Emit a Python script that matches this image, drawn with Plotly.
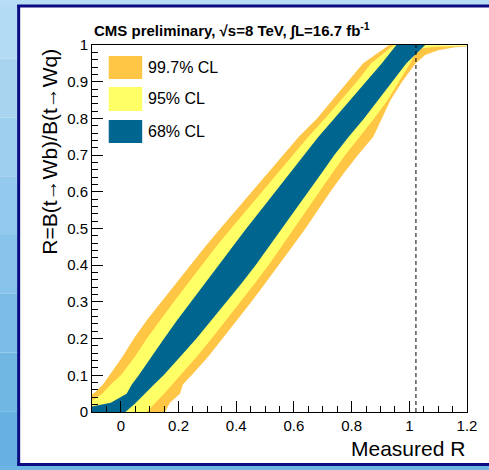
import plotly.graph_objects as go

# True R values at which the confidence-belt edges are given
true_r = [0.0, 0.025, 0.05, 0.075, 0.1, 0.15, 0.2, 0.25, 0.3, 0.35, 0.4, 0.45,
          0.5, 0.55, 0.6, 0.65, 0.7, 0.75, 0.8, 0.85, 0.9, 0.95, 1.0]

# Measured-R edges of the 68% CL belt
cl68_lo = [-0.200, -0.035, 0.020, 0.038, 0.062, 0.105, 0.150, 0.195, 0.243, 0.290, 0.337, 0.385,
           0.435, 0.485, 0.535, 0.585, 0.634, 0.685, 0.740, 0.795, 0.850, 0.905, 0.955]
cl68_hi = [0.016, 0.052, 0.085, 0.115, 0.148, 0.205, 0.262, 0.315, 0.367, 0.418, 0.467, 0.513,
           0.560, 0.605, 0.650, 0.695, 0.740, 0.790, 0.843, 0.893, 0.942, 0.990, 1.055]

# 95% CL belt (upper edge listed up to R=0.95, then its flat tail near R=1)
cl95_lo = [-0.200, -0.110, -0.065, -0.035, 0.000, 0.048, 0.090, 0.135, 0.183, 0.232, 0.280, 0.330,
           0.382, 0.435, 0.488, 0.543, 0.596, 0.650, 0.708, 0.763, 0.818, 0.868, 0.947]
cl95_hi = [0.090, 0.120, 0.150, 0.178, 0.207, 0.262, 0.315, 0.365, 0.415, 0.464, 0.512, 0.558,
           0.603, 0.646, 0.688, 0.732, 0.778, 0.828, 0.878, 0.925, 0.965, 1.003]
cl95_tail_x = [1.020, 1.044, 1.089, 1.158, 1.250]
cl95_tail_y = [0.977, 0.991, 0.995, 0.997, 0.998]

# 99.7% CL belt
cl997_lo = [-0.400, -0.250, -0.095, -0.062, -0.040, 0.005, 0.045, 0.090, 0.140, 0.190, 0.240, 0.292,
            0.345, 0.400, 0.455, 0.510, 0.562, 0.617, 0.680, 0.733, 0.788, 0.840, 0.930]
cl997_hi = [0.153, 0.170, 0.205, 0.215, 0.245, 0.302, 0.352, 0.402, 0.452, 0.500, 0.548, 0.594,
            0.640, 0.684, 0.726, 0.772, 0.822, 0.875, 0.905, 0.935, 0.975, 1.022]
cl997_tail_x = [1.055, 1.100, 1.158, 1.250]
cl997_tail_y = [0.973, 0.986, 0.994, 0.996]

measured_r = 1.023

legend_labels = ["99.7% CL", "95% CL", "68% CL"]
ORANGE = "#FFC545"
YELLOW = "#FFFF66"
BLUE = "#00668F"
NAVY = "#0b0b82"
FONT = "Liberation Sans, Arial, Helvetica, sans-serif"

# plot area in pixels: x 92..473, y 45..412
L, R, T, B = 92, 16, 45, 58
W, H = 489, 470
PW, PH = W - L - R, H - T - B


def px(xpix):
    return (xpix - L) / PW


def py(ypix):
    return (H - B - ypix) / PH


def belt(lo, r_lo, hi, r_hi, color):
    xs = list(lo) + list(reversed(hi))
    ys = list(r_lo) + list(reversed(r_hi))
    return go.Scatter(x=xs, y=ys, fill="toself", fillcolor=color, mode="lines",
                      line=dict(width=0, color=color), hoverinfo="skip", showlegend=False)


fig = go.Figure()
fig.add_trace(belt(cl997_lo, true_r, cl997_hi + cl997_tail_x, true_r[:-1] + cl997_tail_y, ORANGE))
fig.add_trace(belt(cl95_lo, true_r, cl95_hi + cl95_tail_x, true_r[:-1] + cl95_tail_y, YELLOW))
fig.add_trace(belt(cl68_lo, true_r, cl68_hi, true_r, BLUE))

# blue gradient margin on the left, top and bottom of the white slide panel
bg_colors = ["#b3dbf3", "#a8d4f0", "#9dcfee", "#92c9ec", "#87c3ea", "#7cbde7", "#71b7e4", "#66b1e2"]
n = len(bg_colors)
shapes = []
for i, c in enumerate(bg_colors):
    y_top = py(H * i / n)
    y_bot = py(H * (i + 1) / n)
    shapes.append(dict(type="rect", xref="paper", yref="paper", x0=px(-5), x1=px(17), y0=y_bot, y1=y_top,
                       fillcolor=c, line=dict(width=0), layer="below"))
shapes.append(dict(type="rect", xref="paper", yref="paper", x0=px(-5), x1=px(W + 20), y0=py(5), y1=py(-5),
                   fillcolor="#b8def5", line=dict(width=0), layer="below"))
shapes.append(dict(type="rect", xref="paper", yref="paper", x0=px(-5), x1=px(W + 20), y0=py(H + 5), y1=py(466),
                   fillcolor="#6cb5e4", line=dict(width=0), layer="below"))
# navy frame of the panel (left, top, bottom)
shapes.append(dict(type="line", xref="paper", yref="paper", x0=px(17.5), x1=px(17.5), y0=py(465), y1=py(5),
                   line=dict(color=NAVY, width=3), layer="below"))
shapes.append(dict(type="line", xref="paper", yref="paper", x0=px(16), x1=px(W + 20), y0=py(6), y1=py(6),
                   line=dict(color=NAVY, width=3), layer="below"))
shapes.append(dict(type="line", xref="paper", yref="paper", x0=px(16), x1=px(W + 20), y0=py(464.5), y1=py(464.5),
                   line=dict(color=NAVY, width=3), layer="below"))

# measured value
shapes.append(dict(type="line", xref="x", yref="paper", x0=measured_r, x1=measured_r, y0=0, y1=1,
                   line=dict(color="black", width=1, dash="4px,3px"), layer="above"))

# legend swatches
swatch_px = [(56, 79), (87, 111), (120, 143)]
for (top, bot), c in zip(swatch_px, [ORANGE, YELLOW, BLUE]):
    shapes.append(dict(type="rect", xref="paper", yref="paper", x0=px(109), x1=px(143), y0=py(bot), y1=py(top),
                       fillcolor=c, line=dict(width=0), layer="above"))

annotations = []
for (top, bot), lab in zip(swatch_px, legend_labels):
    annotations.append(dict(xref="paper", yref="paper", x=px(147), y=py((top + bot) / 2), xanchor="left",
                            yanchor="middle", text=lab, showarrow=False,
                            font=dict(family=FONT, size=16, color="black")))

annotations.append(dict(xref="paper", yref="paper", x=0.0, y=1.008, xanchor="left", yanchor="bottom",
                        text="<b>CMS preliminary, √s=8 TeV, ∫L=16.7 fb<sup>-1</sup></b>",
                        showarrow=False, font=dict(family=FONT, size=15, color="black")))
annotations.append(dict(xref="paper", yref="paper", x=1.0, y=py(448), xanchor="right", yanchor="middle",
                        text="Measured R", showarrow=False,
                        font=dict(family=FONT, size=21, color="black")))
annotations.append(dict(xref="paper", yref="paper", x=px(48), y=py(47), xanchor="center", yanchor="top",
                        text="R=B(t→Wb)/B(t→Wq)", textangle=-90, showarrow=False,
                        font=dict(family=FONT, size=21, color="black")))

fig.update_layout(
    width=W, height=H,
    margin=dict(l=L, r=R, t=T, b=B),
    paper_bgcolor="white", plot_bgcolor="white",
    shapes=shapes, annotations=annotations,
    showlegend=False,
    font=dict(family=FONT, color="black"),
)
fig.update_xaxes(range=[-0.1, 1.2], tick0=0, dtick=0.2, ticks="inside", ticklen=11, tickwidth=1,
                 tickcolor="black", showline=True, linecolor="black", linewidth=1, mirror=True,
                 showgrid=False, zeroline=False, tickfont=dict(size=15, family=FONT),
                 minor=dict(dtick=0.05, ticks="inside", ticklen=6, tickcolor="black", showgrid=False))
fig.update_yaxes(range=[0, 1], tick0=0, dtick=0.1, ticks="inside", ticklen=11, tickwidth=1,
                 tickcolor="black", showline=True, linecolor="black", linewidth=1, mirror=True,
                 showgrid=False, zeroline=False, tickfont=dict(size=15, family=FONT),
                 minor=dict(dtick=0.02, ticks="inside", ticklen=6, tickcolor="black", showgrid=False))

fig.write_html("out.html",
               post_script="document.documentElement.style.overflow='hidden';"
                           "document.body.style.overflow='hidden';")
